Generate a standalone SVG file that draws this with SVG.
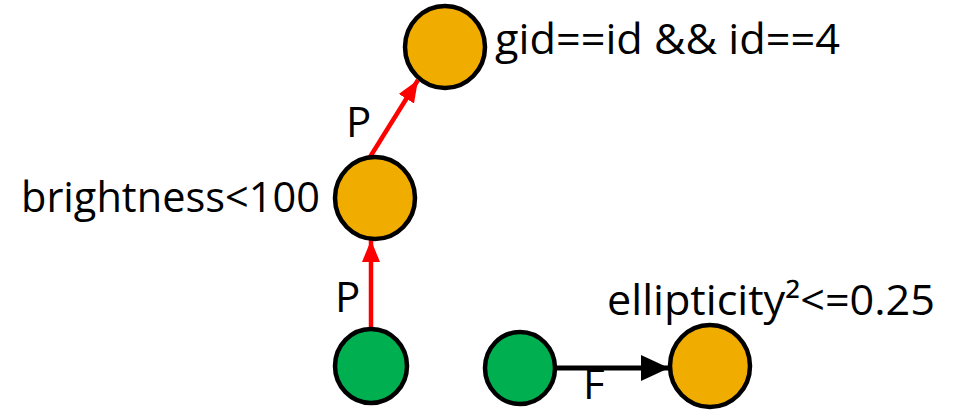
<svg xmlns="http://www.w3.org/2000/svg" width="959" height="410" viewBox="0 0 959 410">
<style>
.n{stroke:#000;stroke-width:4.5}
.o{fill:#F0AD00}
.g{fill:#00B050}
text{font-family:"Open Sans","Liberation Sans",sans-serif;font-size:42px;fill:#000}
.r{stroke:#FF0000;stroke-width:4.5;fill:none}
.k{stroke:#000;stroke-width:5;fill:none}
</style>
<defs>
<marker id="ar" markerUnits="userSpaceOnUse" markerWidth="24" markerHeight="20" refX="22" refY="10" orient="auto"><path d="M0,1 L22,10 L0,19 z" fill="#FF0000"/></marker>
<marker id="ak" markerUnits="userSpaceOnUse" markerWidth="30" markerHeight="28" refX="28" refY="14" orient="auto"><path d="M0,1 L28,14 L0,27 z" fill="#000"/></marker>
</defs>
<rect width="959" height="410" fill="#fff"/>
<g id="connectors">
<line class="r" x1="371" y1="331" x2="371" y2="240" marker-end="url(#ar)"/>
<line class="r" x1="370" y1="157" x2="418" y2="80" marker-end="url(#ar)"/>
<line class="k" x1="556" y1="368" x2="669" y2="368" marker-end="url(#ak)"/>
<text x="335" y="312">P</text>
<text x="346" y="137">P</text>
<text x="583" y="399" font-size="34">F</text>
</g>
<g id="n1"><ellipse class="n o" cx="445" cy="47" rx="40" ry="41"/><text x="495" y="54" textLength="345" lengthAdjust="spacingAndGlyphs">gid==id &amp;&amp; id==4</text></g>
<g id="n2"><ellipse class="n o" cx="375" cy="198" rx="40" ry="41"/><text x="21" y="212" textLength="299" lengthAdjust="spacingAndGlyphs">brightness&lt;100</text></g>
<g id="n3"><ellipse class="n g" cx="371" cy="366" rx="36" ry="37"/></g>
<g id="n4"><ellipse class="n g" cx="520" cy="368" rx="35" ry="36"/></g>
<g id="n5"><ellipse class="n o" cx="710" cy="366" rx="40" ry="41"/><text x="607" y="315" textLength="328" lengthAdjust="spacingAndGlyphs">ellipticity²&lt;=0.25</text></g>
</svg>
